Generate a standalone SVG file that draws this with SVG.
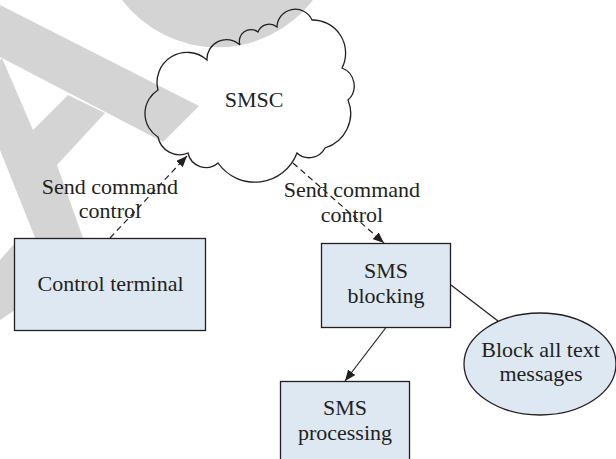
<svg xmlns="http://www.w3.org/2000/svg" width="616" height="459" viewBox="0 0 616 459">
  <defs>
    <marker id="arrow" markerUnits="userSpaceOnUse" markerWidth="11" markerHeight="9" refX="11" refY="4.5" orient="auto">
      <path d="M0,0 L11,4.5 L0,9 Z" fill="#231f20"/>
    </marker>
    <style>
      .wm { fill: #d4d4d4; stroke: none; }
      .box { fill: #dde8f3; stroke: #231f20; stroke-width: 1.3; }
      .cloud { fill: none; stroke: #231f20; stroke-width: 1.3; }
      .lbl { font-family: "Liberation Serif", "Times New Roman", serif; font-size: 22px; fill: #231f20; text-anchor: middle; }
      .dash { fill: none; stroke: #231f20; stroke-width: 1.2; stroke-dasharray: 6 4; }
      .solid { fill: none; stroke: #231f20; stroke-width: 1.2; }
    </style>
  </defs>

  <!-- background watermark shapes -->
  <g id="watermark">
    <path class="wm" d="M122,0 A120,120 0 0,0 313,0 Z"/>
    <polygon class="wm" points="0,5 199,106 163,142 0,57"/>
    <polygon class="wm" points="2,58 33,130 68,95 105,113 57,165 83,238 36,240 0,150 0,60"/>
    <polygon class="wm" points="0,260 15,243 15,310 0,320"/>
  </g>

  <!-- connectors -->
  <g id="connectors">
    <line class="dash" x1="110" y1="238" x2="187" y2="156" marker-end="url(#arrow)"/>
    <line class="dash" x1="293" y1="163" x2="384" y2="243" marker-end="url(#arrow)"/>
    <line class="solid" x1="386" y1="327.5" x2="345" y2="381" marker-end="url(#arrow)"/>
    <line class="solid" x1="451" y1="285" x2="498" y2="321"/>
  </g>

  <!-- edge labels -->
  <g id="labels">
    <text class="lbl" x="110" y="194">Send command</text>
    <text class="lbl" x="110" y="218">control</text>
    <text class="lbl" x="352" y="197">Send command</text>
    <text class="lbl" x="352" y="222">control</text>
  </g>

  <g id="smsc">
    <path class="cloud" d="M158,90 A30,30 0 0,1 207,60 A19.5,19.5 0 0,1 240,45 A11.6,11.6 0 0,1 258,32 A12,12 0 0,1 277,27 A18.3,18.3 0 0,1 312,20 A33,33 0 0,1 342,68 A19.2,19.2 0 0,1 348,100 A36,36 0 0,1 325,148 A17.9,17.9 0 0,1 297,153 A45,45 0 0,1 218,163 A18.4,18.4 0 0,1 188,153 A22,22 0 0,1 158,137 A27.7,27.7 0 0,1 158,90 Z"/>
    <text class="lbl" x="254" y="107">SMSC</text>
  </g>

  <g id="control-terminal">
    <rect class="box" x="14.5" y="238.5" width="191" height="92"/>
    <text class="lbl" x="110.5" y="291">Control terminal</text>
  </g>

  <g id="sms-blocking">
    <rect class="box" x="321.5" y="243.5" width="129" height="84"/>
    <text class="lbl" x="386" y="278">SMS</text>
    <text class="lbl" x="386" y="303">blocking</text>
  </g>

  <g id="sms-processing">
    <rect class="box" x="280.5" y="381.5" width="129" height="90"/>
    <text class="lbl" x="345" y="415">SMS</text>
    <text class="lbl" x="345" y="440">processing</text>
  </g>

  <g id="block-all">
    <ellipse class="box" cx="540" cy="364" rx="76" ry="51"/>
    <text class="lbl" x="540.5" y="357">Block all text</text>
    <text class="lbl" x="541" y="381">messages</text>
  </g>
</svg>
